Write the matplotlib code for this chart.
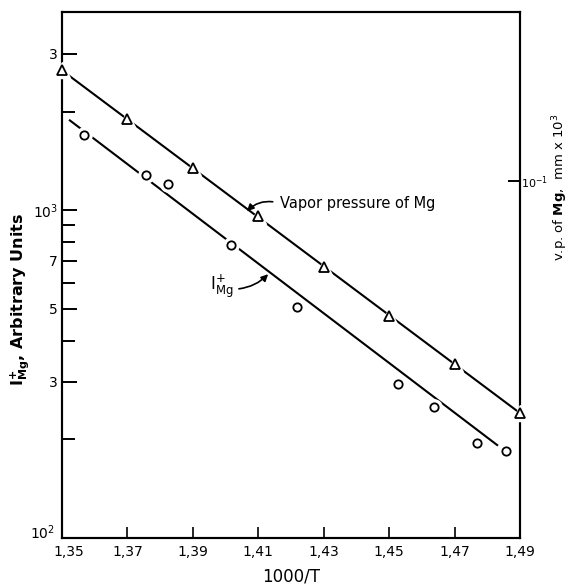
import numpy as np
import matplotlib.pyplot as plt
import matplotlib.transforms as mtransforms
from matplotlib.ticker import FixedLocator, NullLocator

# circles: I_Mg+ (left axis, arbitrary units)
x_ion = [1.3567, 1.3757, 1.3824, 1.4017, 1.4218, 1.4527, 1.4637, 1.4769, 1.4857]
y_ion = [1693, 1279, 1200, 782, 506, 295, 251, 195, 184]
ion_fit_x = [1.3524, 1.483]
ion_fit_y = [1880, 192]

# triangles: vapor pressure of Mg (right axis, mm x 10^3)
x_vp = [1.35, 1.37, 1.39, 1.41, 1.43, 1.45, 1.47, 1.49]
y_vp = [0.218, 0.1545, 0.1095, 0.0782, 0.0547, 0.0388, 0.0277, 0.0196]
vp_fit_x = [1.35, 1.49]
vp_fit_y = [0.218, 0.0196]

xticks = [1.35, 1.37, 1.39, 1.41, 1.43, 1.45, 1.47, 1.49]
ymajor = [100, 300, 500, 700, 1000, 3000]
ymajor_labels = [r'$\mathregular{10^2}$', '3', '5', '7', r'$\mathregular{10^3}$', '3']
yminor = [200, 400, 600, 800, 900, 2000]

fig = plt.figure(figsize=(5.69, 5.84), dpi=100)
ax = fig.add_axes([0.109, 0.079, 0.805, 0.9])
ax2 = ax.twinx()

ax.set_yscale('log')
ax.set_xlim(1.35, 1.49)
ax.set_ylim(100, 4020)
ax2.set_yscale('log')
ax2.set_ylim(0.00816, 0.328)

# lines first, then white halos to make the little gaps, then markers
ax.plot(ion_fit_x, ion_fit_y, color='black', lw=1.5, zorder=2)
ax2.plot(vp_fit_x, vp_fit_y, color='black', lw=1.5, zorder=2)
ax.plot(x_ion, y_ion, ls='none', marker='o', ms=11, mfc='white', mec='white', zorder=3)
ax.plot(x_ion, y_ion, ls='none', marker='o', ms=6, mfc='white', mec='black', mew=1.3, zorder=4)
ax2.plot(x_vp, y_vp, ls='none', marker='^', ms=12, mfc='white', mec='white', zorder=3, clip_on=False)
ax2.plot(x_vp, y_vp, ls='none', marker='^', ms=7, mfc='white', mec='black', mew=1.3, zorder=4, clip_on=False)

for s in list(ax.spines.values()) + list(ax2.spines.values()):
    s.set_linewidth(1.5)

ax.set_xticks(xticks)
ax.set_xticklabels([f'{t:.2f}'.replace('.', ',') for t in xticks], fontsize=10)
ax.tick_params(axis='x', direction='in', length=8, width=1.2, pad=5)

ax.yaxis.set_major_locator(FixedLocator(ymajor))
ax.yaxis.set_minor_locator(FixedLocator(yminor))
ax.set_yticklabels(ymajor_labels, fontsize=10)
ax.yaxis.set_minor_formatter(plt.NullFormatter())
ax.tick_params(axis='y', which='major', direction='in', length=11, width=1.4, pad=3)
ax.tick_params(axis='y', which='minor', direction='in', length=9, width=1.4)

# corner labels: nudge 10^2 up and 1,35 right so they don't collide
lab = ax.get_yticklabels()[0]
lab.set_transform(lab.get_transform() + mtransforms.ScaledTranslation(-2/72, 5/72, fig.dpi_scale_trans))
lab = ax.get_xticklabels()[0]
lab.set_transform(lab.get_transform() + mtransforms.ScaledTranslation(5/72, 0, fig.dpi_scale_trans))

ax2.yaxis.set_major_locator(FixedLocator([0.1]))
ax2.yaxis.set_minor_locator(NullLocator())
ax2.set_yticklabels([r'$\mathregular{10^{-1}}$'], fontsize=8)
ax2.tick_params(axis='y', direction='in', length=9, width=1.4, pad=1)

ax.set_xlabel('1000/T', fontsize=12, labelpad=6)

fig.text(0.036, 0.487, r'$\mathregular{I_{Mg}^{+}}$, Arbitrary Units', rotation=90,
         ha='center', va='center', fontsize=11.5, fontweight='bold')
fig.text(0.984, 0.68, r'v.p. of $\mathbf{Mg}$,  mm x $\mathregular{10^3}$', rotation=90,
         ha='center', va='center', fontsize=9.5)

ax.annotate('Vapor pressure of Mg', xy=(1.4065, 993), xytext=(1.4165, 1050),
            fontsize=10.5, ha='left', va='center',
            arrowprops=dict(arrowstyle='-|>', color='black', lw=1.2, relpos=(0, 0.5),
                            connectionstyle='arc3,rad=0.3', shrinkA=3, shrinkB=0,
                            mutation_scale=10))
ax.annotate(r'$\mathregular{I_{Mg}^{+}}$', xy=(1.413, 638), xytext=(1.3952, 585),
            fontsize=12, ha='left', va='center',
            arrowprops=dict(arrowstyle='-|>', color='black', lw=1.2, relpos=(1, 0.4),
                            connectionstyle='arc3,rad=0.2', shrinkA=2, shrinkB=0,
                            mutation_scale=10))

fig.savefig('out.png', dpi=100)
